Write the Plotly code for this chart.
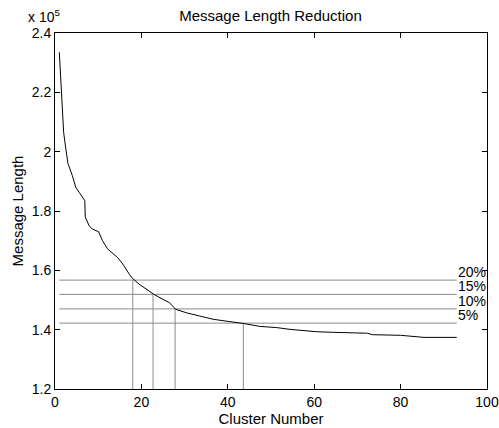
import plotly.graph_objects as go

# Traced curve: cluster number vs message length
cluster = [1, 1.7, 2, 2.5, 3, 4, 4.8, 5.6, 6.9, 7.0, 7.9, 8.7, 10.1, 11, 12.2, 14.5,
           15.7, 17.2, 18, 19.5, 21.1, 22.9, 25, 26.5, 27.9, 30.4, 33.5, 36.6, 40.5,
           43.6, 47.4, 51.3, 54.4, 60.6, 64.5, 72.3, 73.5, 80, 85.4, 93]
msg_len = [233500, 211000, 206500, 201000, 196000, 192000, 188000, 186300, 183500,
           178000, 175000, 173900, 173000, 170000, 167200, 164300, 162100, 158700,
           157200, 155300, 153600, 151900, 150200, 149100, 146900, 145700, 144600,
           143500, 142700, 142100, 141100, 140700, 140100, 139300, 139100, 138800,
           138300, 138100, 137400, 137400]

# Reduction thresholds
pct_labels = ["20%", "15%", "10%", "5%"]
levels = [156700, 151900, 147000, 142200]
cut_x = [18, 22.7, 27.8, 43.6]

x_ticks = [0, 20, 40, 60, 80, 100]
y_ticks = [120000, 140000, 160000, 180000, 200000, 220000, 240000]
y_ticktext = ["1.2", "1.4", "1.6", "1.8", "2", "2.2", "2.4"]

x_start, x_end = cluster[0], cluster[-1]
gray = "#8c8c8c"

fig = go.Figure()

# horizontal threshold lines
for lv in levels:
    fig.add_trace(go.Scatter(x=[x_start, x_end], y=[lv, lv], mode="lines",
                             line=dict(color=gray, width=1), hoverinfo="skip",
                             showlegend=False))
# vertical cut lines
for cx, lv in zip(cut_x, levels):
    fig.add_trace(go.Scatter(x=[cx, cx], y=[y_ticks[0], lv], mode="lines",
                             line=dict(color=gray, width=1), hoverinfo="skip",
                             showlegend=False))

fig.add_trace(go.Scatter(x=cluster, y=msg_len, mode="lines",
                         line=dict(color="black", width=1), showlegend=False))

for lab, lv in zip(pct_labels, levels):
    fig.add_annotation(x=x_end, y=lv, text=lab, showarrow=False,
                       xanchor="left", yanchor="bottom", xshift=-1, yshift=-2,
                       font=dict(size=14, color="black"))

fig.add_annotation(x=0, y=1, xref="paper", yref="paper", text="x 10<sup>5</sup>",
                   showarrow=False, xanchor="left", yanchor="bottom",
                   xshift=-29, yshift=6, font=dict(size=14, color="black"))

font = "Liberation Sans, Arial, Helvetica, sans-serif"
axis_common = dict(showgrid=False, zeroline=False, showline=True, linecolor="black",
                   linewidth=1, mirror="ticks", ticks="inside", ticklen=5,
                   tickcolor="black", tickfont=dict(size=14, color="black"),
                   automargin=False)

fig.update_layout(
    width=499, height=428,
    margin=dict(l=55, r=12, t=33, b=39),
    paper_bgcolor="white", plot_bgcolor="white",
    font=dict(family=font, size=14, color="black"),
    title=dict(text="Message Length Reduction", x=0.542, xanchor="center",
               y=0.963, yanchor="middle", font=dict(size=15)),
    xaxis=dict(range=[0, 100], tickvals=x_ticks,
               title=dict(text="Cluster Number", standoff=0, font=dict(size=15)),
               **axis_common),
    yaxis=dict(range=[120000, 240000], tickvals=y_ticks, ticktext=y_ticktext,
               title=dict(text="Message Length", standoff=4, font=dict(size=15)),
               **axis_common),
)

fig.write_html("out.html", config={"displayModeBar": False},
               post_script="document.body.style.margin='0px';document.body.style.overflow='hidden';")
